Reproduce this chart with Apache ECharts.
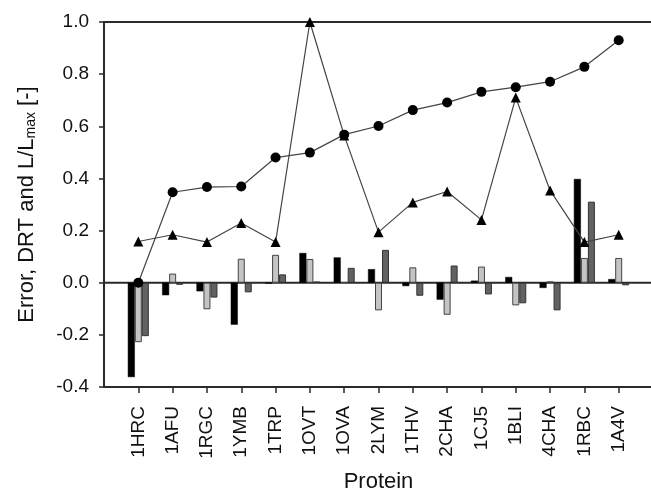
<!DOCTYPE html>
<html>
<head>
<meta charset="utf-8">
<script src="https://cdn.jsdelivr.net/npm/echarts@6/dist/echarts.min.js"></script>
<style>
  html, body { margin: 0; padding: 0; background: #fff; }
  #chart { width: 651px; height: 494px; }
</style>
</head>
<body>
<div id="chart"></div>
<script>
var proteins = ['1HRC','1AFU','1RGC','1YMB','1TRP','1OVT','1OVA','2LYM','1THV','2CHA','1CJ5','1BLI','4CHA','1RBC','1A4V'];
var errorBlack = [-0.362,-0.048,-0.033,-0.161,-0.003,0.114,0.097,0.052,-0.013,-0.065,0.008,0.022,-0.020,0.398,0.014];
var errorLight = [-0.228,0.035,-0.102,0.092,0.107,0.091,0.002,-0.106,0.059,-0.123,0.062,-0.087,0.005,0.095,0.095];
var errorDark  = [-0.205,-0.008,-0.057,-0.037,0.032,0.004,0.057,0.126,-0.050,0.066,-0.045,-0.079,-0.106,0.311,-0.010];
var drtCircle  = [0.000,0.347,0.367,0.369,0.480,0.499,0.568,0.601,0.662,0.691,0.732,0.750,0.771,0.828,0.930];
var llTriangle = [0.158,0.184,0.156,0.229,0.156,1.000,0.565,0.194,0.308,0.350,0.241,0.710,0.354,0.156,0.184];
var zeroLine = 0.0;

function pad(arr){ return [null].concat(arr).concat([null]); }
var cats = [''].concat(proteins).concat(['']);
var zeroData = cats.map(function(){ return zeroLine; });
var FONT = "'Liberation Sans', Arial, sans-serif";
var AX = '#2a2a2a';

var chart = echarts.init(document.getElementById('chart'));
var showIdx = function(i){ return i >= 1 && i <= proteins.length; };
chart.setOption({
  animation: false,
  backgroundColor: '#fff',
  grid: { left: 104, top: 22, width: 549, height: 365, outerBoundsMode: 'none', containLabel: false,
    show: true, borderColor: AX, borderWidth: 2, backgroundColor: 'transparent' },
  xAxis: [{
    type: 'category',
    data: cats,
    boundaryGap: false,
    position: 'bottom',
    axisLine: { show: true, onZero: false, lineStyle: { color: AX, width: 2 } },
    axisTick: { show: true, interval: function(i){ return showIdx(i); }, length: 6, lineStyle: { color: AX, width: 1.5 } },
    axisLabel: { interval: 0, rotate: 90, margin: 19, fontSize: 19, color: '#111', fontFamily: FONT },
    splitLine: { show: false },
    name: 'Protein',
    nameLocation: 'middle',
    nameGap: 84,
    nameTextStyle: { fontSize: 22, color: '#111', fontFamily: FONT }
  }],
  yAxis: {
    type: 'value',
    min: -0.4,
    max: 1.0,
    interval: 0.2,
    axisLine: { show: true, onZero: false, lineStyle: { color: AX, width: 2 } },
    axisTick: { show: true, length: 5, lineStyle: { color: AX, width: 1.5 } },
    axisLabel: { margin: 15, fontSize: 19, color: '#111', fontFamily: FONT,
      formatter: function(v){ return (Math.round(v*10)/10).toFixed(1); } },
    splitLine: { show: false },
    name: '{a|Error, DRT and L/L}{s|max}{a| [-]}',
    nameLocation: 'middle',
    nameGap: 66,
    nameRotate: 90,
    nameTextStyle: {
      fontFamily: FONT, color: '#111',
      rich: {
        a: { fontSize: 22, fontFamily: FONT, color: '#111' },
        s: { fontSize: 14, fontFamily: FONT, color: '#111', verticalAlign: 'bottom', padding: [9, 0, 0, 0] }
      }
    }
  },
  series: [
    { type: 'line', data: zeroData, symbol: 'none', silent: true, z: 1,
      lineStyle: { color: AX, width: 2 } },
    { type: 'bar', data: pad(errorBlack), barWidth: 7, barGap: '0%', z: 2,
      itemStyle: { color: '#000', borderColor: '#000', borderWidth: 0.5 } },
    { type: 'bar', data: pad(errorLight), barWidth: 7, barGap: '0%', z: 2,
      itemStyle: { color: '#c4c4c4', borderColor: '#444', borderWidth: 1 } },
    { type: 'bar', data: pad(errorDark), barWidth: 7, barGap: '0%', z: 2,
      itemStyle: { color: '#626262', borderColor: '#333', borderWidth: 1 } },
    { type: 'line', data: pad(llTriangle), symbol: 'triangle', symbolSize: 10, showAllSymbol: true,
      lineStyle: { color: '#444', width: 1.2 }, itemStyle: { color: '#000', borderWidth: 0 }, z: 5 },
    { type: 'line', data: pad(drtCircle), symbol: 'circle', symbolSize: 10, showAllSymbol: true,
      lineStyle: { color: '#444', width: 1.2 }, itemStyle: { color: '#000', borderWidth: 0 }, z: 6 }
  ]
});
</script>
</body>
</html>
